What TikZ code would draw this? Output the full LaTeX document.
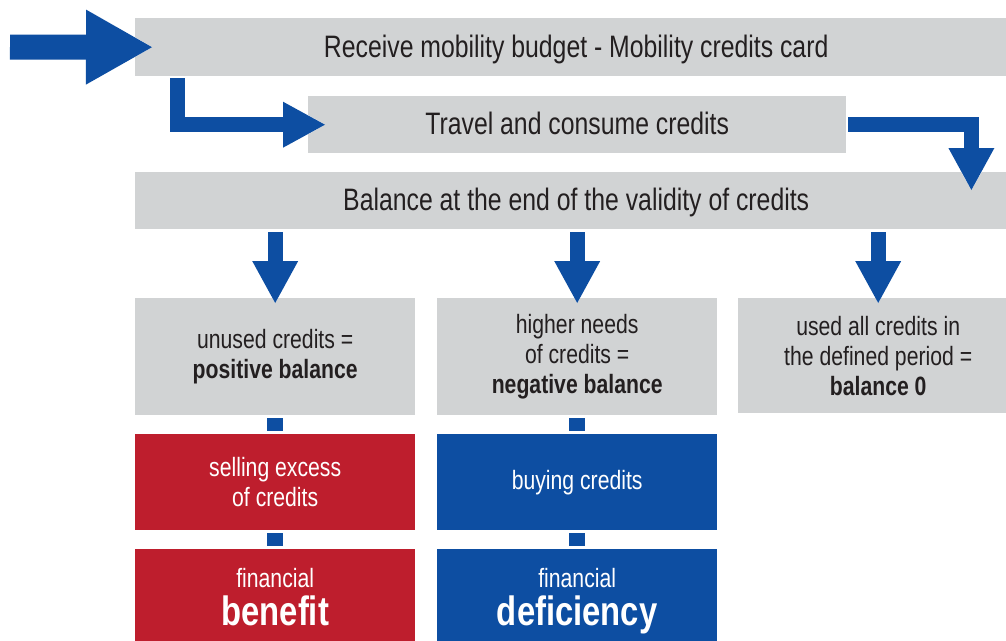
\documentclass[tikz,border=0pt]{standalone}
\usepackage{fontspec}
\setmainfont{Liberation Sans}[FakeStretch=0.8]
\usetikzlibrary{arrows.meta}

\definecolor{boxgray}{HTML}{D1D3D4}
\definecolor{flowblue}{HTML}{0D4EA2}
\definecolor{flowred}{HTML}{BE1E2D}
\definecolor{textdark}{HTML}{231F20}

\tikzstyle{stepbar}=[fill=boxgray,
                     text=textdark,
                     anchor=north west,
                     inner sep=0pt,
                     minimum height=57pt,
                     text height=24pt,
                     text depth=4pt,
                     font=\fontsize{31}{30}\selectfont]
\tikzstyle{flowbox}=[anchor=north west,
                     inner sep=0pt,
                     minimum width=280pt,
                     align=center,
                     font=\fontsize{26.5}{30}\selectfont]
\tikzstyle{resultbox}=[flowbox, fill=boxgray, text=textdark, minimum height=117pt,
                       execute at begin node=\rule{0pt}{26pt}]
\tikzstyle{redbox}=[flowbox, fill=flowred, text=white, minimum height=96pt]
\tikzstyle{bluebox}=[flowbox, fill=flowblue, text=white, minimum height=96pt]
\tikzstyle{bigarrow}=[draw=flowblue,
                      line width=15pt,
                      -{Triangle[width=46pt,length=42pt,line width=0pt]},
                      preaction={draw=white, line width=17pt,
                                 -{Triangle[width=50pt,length=44pt,line width=0pt]}}]
\tikzstyle{entryarrow}=[draw=flowblue,
                        line width=25pt,
                        -{Triangle[width=75pt,length=66pt,line width=0pt]},
                        preaction={draw=white, line width=27pt,
                                   -{Triangle[width=79pt,length=68pt,line width=0pt]}}]
\tikzstyle{link}=[draw=flowblue, line width=16pt, shorten <=3pt, shorten >=3pt]

\begin{document}
\begin{tikzpicture}[x=1pt, y=-1pt]
    \useasboundingbox (0,0) rectangle (1006,640);

    \node [stepbar, minimum width=882pt, minimum height=58pt] (receive) at (135,18)
        {Receive mobility budget - Mobility credits card};
    \node [stepbar, minimum width=538pt] (travel) at (308,96)
        {Travel and consume credits};
    \node [stepbar, minimum width=882pt] (balance) at (135,172)
        {Balance at the end of the validity of credits};

    \node [resultbox] (positive) at (135,298)
        {unused credits =\\\textbf{positive balance}};
    \node [resultbox] (negative) at (437,298)
        {higher needs\\of credits =\\\textbf{negative balance}};
    \node [resultbox, minimum height=115pt] (zero) at (738,298)
        {used all credits in\\the defined period =\\\textbf{balance 0}};

    \node [redbox] (selling) at (135,434) {selling excess\\of credits};
    \node [bluebox] (buying) at (437,434) {buying credits};
    \node [redbox, minimum height=104pt] (benefit) at (135,549)
        {financial\\[8pt]{\fontsize{41}{36}\selectfont\bfseries benefit\vphantom{y}}};
    \node [bluebox, minimum height=104pt] (deficiency) at (437,549)
        {financial\\[8pt]{\fontsize{41}{36}\selectfont\bfseries deficiency}};

    \coordinate (entry) at (10,47);
    \draw [entryarrow] (entry) -- ([xshift=17pt]receive.west);
    \draw [bigarrow] ([xshift=42pt,yshift=-2pt]receive.south west) |- ([xshift=17pt]travel.west);
    \draw [bigarrow] ([xshift=2pt]travel.east) -| ([xshift=-46pt,yshift=-18pt]balance.north east);

    \draw [bigarrow] ([yshift=-3pt]balance.south -| positive.north) -- ([yshift=-5pt]positive.north);
    \draw [bigarrow] ([yshift=-3pt]balance.south -| negative.north) -- ([yshift=-5pt]negative.north);
    \draw [bigarrow] ([yshift=-3pt]balance.south -| zero.north) -- ([yshift=-5pt]zero.north);

    \draw [link] (positive) -- (selling);
    \draw [link] (selling) -- (benefit);
    \draw [link] (negative) -- (buying);
    \draw [link] (buying) -- (deficiency);
\end{tikzpicture}
\end{document}
